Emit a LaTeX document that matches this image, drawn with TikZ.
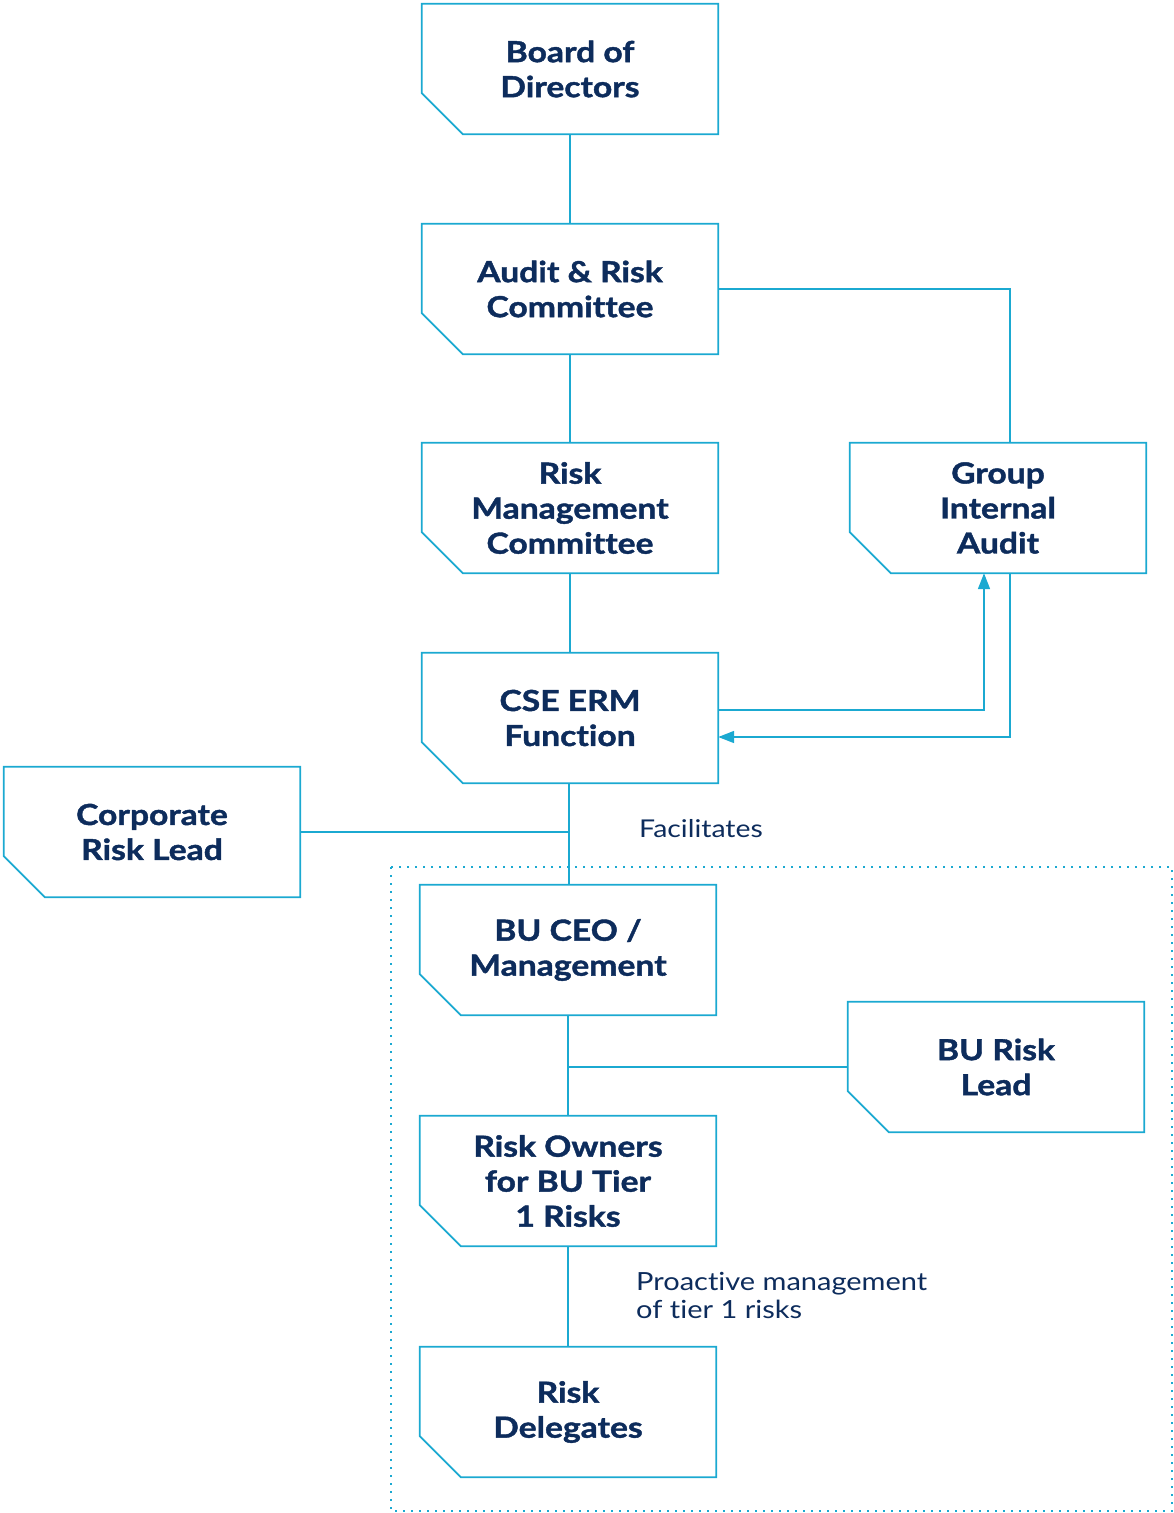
\documentclass[tikz,border=0pt]{standalone}
\usepackage{fontspec}
\setmainfont{Lato}[FakeStretch=1.16,Ligatures={NoCommon},BoldFeatures={FakeBold=1.4}]
\usetikzlibrary{arrows.meta}
\definecolor{linecyan}{HTML}{1BA9D1}
\definecolor{navy}{HTML}{0D2C5C}
% outline of a box with its lower left corner cut off
\newcommand\cutbox[1]{%
  \draw[link] (#1.north west) -- (#1.north east) -- (#1.south east)
    -- ([xshift=41pt]#1.south west) -- ([yshift=41pt]#1.south west) -- cycle;}
\begin{document}
\begin{tikzpicture}[x=1pt,y=-1pt,
  orgbox/.style={minimum width=296pt,minimum height=130pt,inner sep=0pt,
    align=center,text=navy,font=\bfseries\fontsize{29}{35}\selectfont},
  link/.style={draw=linecyan,line width=1.7pt},
  tip/.style={-{Triangle[length=16pt,width=12pt]}},
  note/.style={text=navy,inner sep=0pt,align=left,font=\fontsize{24.5}{28}\selectfont},
  dotline/.style={draw=linecyan,line width=2.2pt,dash pattern=on 2.2pt off 5.8pt}]
\useasboundingbox (0,0) rectangle (1174,1513);

% business-unit area
\draw[dotline] (391,867) rectangle (1172,1511);

% boxes
\node[orgbox] (board) at (570,69)   {Board of\\Directors};
\node[orgbox] (arc)   at (570,289)  {Audit \& Risk\\Committee};
\node[orgbox] (rmc)   at (570,508)  {Risk\\Management\\Committee};
\node[orgbox] (gia)   at (998,508)  {Group\\Internal\\Audit};
\node[orgbox] (cse)   at (570,718)  {CSE ERM\\Function};
\node[orgbox] (crl)   at (152,832)  {Corporate\\Risk Lead};
\node[orgbox] (bu)    at (568,950)  {BU CEO /\\Management};
\node[orgbox] (brl)   at (996,1067) {BU Risk\\Lead};
\node[orgbox] (own)   at (568,1181) {Risk Owners\\for BU Tier\\1 Risks};
\node[orgbox] (del)   at (568,1412) {Risk\\Delegates};

\foreach \n in {board,arc,rmc,gia,cse,crl,bu,brl,own,del} {\cutbox{\n}}

% connectors
\draw[link] (board.south) -- (arc.north);
\draw[link] (arc.south) -- (rmc.north);
\draw[link] (rmc.south) -- (cse.north);
\draw[link] (arc.east) -| ([xshift=12pt]gia.north);
\draw[link,tip] ([yshift=8pt]cse.east) -| ([xshift=-14pt]gia.south);
\draw[link,tip] ([xshift=12pt]gia.south) |- ([yshift=-19pt]cse.east);
\draw[link] ([xshift=-1pt]cse.south) -- ([xshift=1pt]bu.north);
\draw[link] (crl.east) -- (crl.east -| bu.north);
\draw[link] (bu.south) -- (own.north);
\draw[link] (brl.west) -- (brl.west -| bu.south);
\draw[link] (own.south) -- (del.north);

% labels
\node[note,anchor=west] (fac) at (639,829) {Facilitates};
\node[note,anchor=north west,font=\fontsize{25}{28}\selectfont] (pro) at (636,1272) {Proactive management\\of tier 1 risks};
\end{tikzpicture}
\end{document}
